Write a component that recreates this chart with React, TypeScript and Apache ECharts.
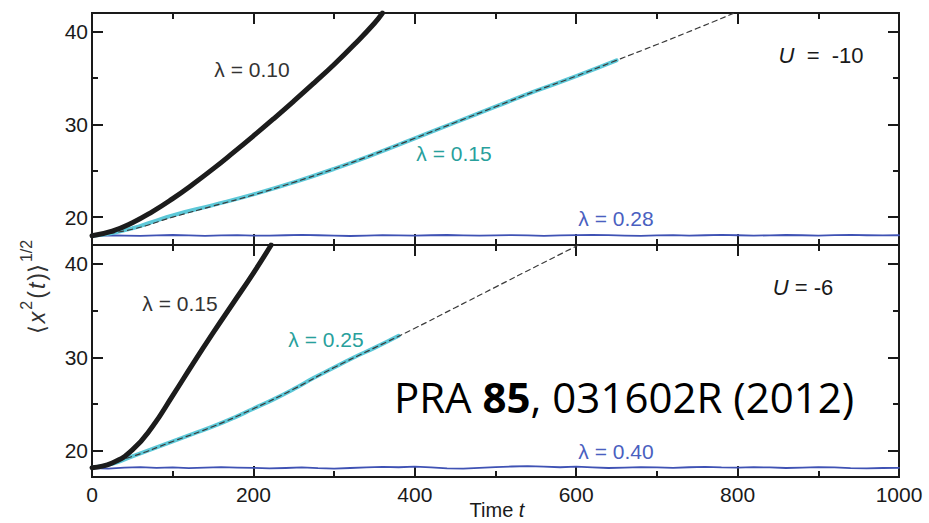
import React, { useEffect, useRef } from "react";
import * as echarts from "echarts";

// ---------- data ----------
const X_MIN = 0;
const X_MAX = 1000;
const X_INTERVAL = 200;
const Y_MAJOR = [20, 30, 40];
const Y_MINOR = [25, 35];
const TOP_Y_RANGE = [17, 42];
const BOT_Y_RANGE = [17.2, 42];

// Top panel, U = -10
const TOP_BLACK_T = [0, 25, 50, 75, 100, 125, 150, 175, 200, 225, 250, 275, 300, 325, 350, 360];
const TOP_BLACK_V = [18.0, 18.5, 19.4, 20.6, 22.0, 23.55, 25.2, 26.95, 28.75, 30.6, 32.5, 34.45, 36.45, 38.6, 40.9, 42.0];

const TOP_TEAL_T = [0, 25, 50, 75, 100, 150, 200, 250, 300, 350, 400, 450, 500, 550, 600, 650];
const TOP_TEAL_V = [18.0, 18.3, 18.8, 19.5, 20.2, 21.3, 22.45, 23.75, 25.2, 26.8, 28.5, 30.2, 31.9, 33.6, 35.2, 36.9];

const TOP_FIT_T = [0, 50, 100, 150, 200, 250, 300, 350, 400, 450, 500, 550, 600, 650, 700, 750, 796];
const TOP_FIT_V = [18.0, 18.7, 20.0, 21.2, 22.4, 23.75, 25.2, 26.8, 28.5, 30.2, 31.9, 33.6, 35.2, 36.9, 38.6, 40.35, 42.0];

const BLUE_STEP = 20;
const TOP_BLUE_V = [
  18.02, 18.05, 18.0, 17.98, 18.04, 18.08, 18.03, 17.99, 18.04, 18.07,
  18.02, 18.0, 18.05, 18.09, 18.05, 18.01, 17.97, 18.02, 18.06, 18.03,
  18.0, 18.05, 18.08, 18.04, 18.0, 18.03, 18.07, 18.04, 17.99, 18.03,
  18.06, 18.1, 18.06, 18.02, 17.98, 18.03, 18.06, 18.02, 18.05, 18.09,
  18.05, 18.01, 18.04, 18.08, 18.05, 18.02, 18.06, 18.09, 18.05, 18.03,
  18.05,
];

// Bottom panel, U = -6
const BOT_BLACK_T = [0, 25, 50, 75, 100, 125, 150, 175, 200, 222];
const BOT_BLACK_V = [18.2, 18.7, 20.1, 22.6, 25.9, 29.3, 32.6, 35.8, 39.0, 42.0];

const BOT_TEAL_T = [0, 25, 50, 75, 100, 125, 150, 175, 200, 225, 250, 275, 300, 325, 350, 380];
const BOT_TEAL_V = [18.2, 18.6, 19.4, 20.2, 21.0, 21.8, 22.6, 23.5, 24.5, 25.5, 26.6, 27.8, 28.9, 30.0, 31.0, 32.3];

const BOT_FIT_T = [0, 50, 100, 150, 200, 250, 300, 350, 400, 450, 500, 550, 603];
const BOT_FIT_V = [18.2, 19.4, 21.0, 22.6, 24.5, 26.6, 28.9, 31.0, 33.1, 35.3, 37.5, 39.7, 42.0];

const BOT_BLUE_V = [
  18.15, 18.1, 18.2, 18.25, 18.18, 18.22, 18.15, 18.2, 18.26, 18.2,
  18.17, 18.12, 18.16, 18.22, 18.14, 18.1, 18.16, 18.22, 18.28, 18.24,
  18.3, 18.22, 18.12, 18.1, 18.18, 18.26, 18.32, 18.36, 18.3, 18.24,
  18.3, 18.22, 18.16, 18.2, 18.26, 18.22, 18.18, 18.24, 18.28, 18.22,
  18.2, 18.26, 18.22, 18.16, 18.2, 18.26, 18.22, 18.15, 18.12, 18.16,
  18.18,
];

// ---------- styles ----------
const FONT = "'Liberation Sans', Arial, Helvetica, sans-serif";
const INK = "#1a1a1a";
const BLACK_LINE = "#1c1c1c";
const TEAL_LINE = "#5cc8d8";
const TEAL_TEXT = "#28a09c";
const BLUE_LINE = "#3f52b4";
const BLUE_TEXT = "#4a5fc0";
const FIT_LINE = "#3a3a3a";

const pairs = (t: number[], v: number[]) => t.map((x, i) => [x, v[i]]);
const bluePairs = (v: number[]) => v.map((y, i) => [i * BLUE_STEP, y]);

function xAxis(grid: number, position: string, showLabel: boolean) {
  return {
    type: "value",
    gridIndex: grid,
    position,
    min: X_MIN,
    max: X_MAX,
    interval: X_INTERVAL,
    axisLine: { show: false },
    splitLine: { show: false },
    axisTick: { show: true, inside: true, length: 11, lineStyle: { color: INK, width: 2 } },
    minorTick: { show: true, splitNumber: 2, length: 6, lineStyle: { color: INK, width: 2 } },
    minorSplitLine: { show: false },
    axisLabel: {
      show: showLabel,
      margin: 7,
      fontSize: 21,
      color: INK,
      fontFamily: FONT,
      formatter: (v: number) => String(v),
    },
  };
}

function yAxis(grid: number, position: string, range: number[], major: boolean, showLabel: boolean) {
  return {
    type: "value",
    gridIndex: grid,
    position,
    min: range[0],
    max: range[1],
    axisLine: { show: false },
    splitLine: { show: false },
    axisTick: {
      show: true,
      inside: true,
      length: major ? 11 : 6,
      customValues: major ? Y_MAJOR : Y_MINOR,
      lineStyle: { color: INK, width: 2 },
    },
    axisLabel: {
      show: showLabel,
      customValues: Y_MAJOR,
      margin: 4,
      fontSize: 21,
      color: INK,
      fontFamily: FONT,
    },
  };
}

function line(xi: number, yi: number, data: number[][], color: string, width: number, opts: any = {}) {
  return {
    type: "line",
    xAxisIndex: xi,
    yAxisIndex: yi,
    data,
    showSymbol: false,
    symbol: "none",
    clip: true,
    smooth: opts.smooth ?? false,
    z: opts.z ?? 2,
    lineStyle: { color, width, type: opts.dash ?? "solid", cap: "round", join: "round" },
  };
}

function label(x: number, y: number, text: string, fill: string, size = 21) {
  return {
    type: "text",
    x,
    y,
    z: 10,
    style: {
      text,
      fill,
      fontSize: size,
      fontFamily: FONT,
      align: "center",
      verticalAlign: "middle",
      textAlign: "center",
      textVerticalAlign: "middle",
    },
  };
}

function richLabel(x: number, y: number, text: string, rich: any, base: any, extra: any = {}) {
  return {
    type: "text",
    x,
    y,
    z: 10,
    ...extra,
    style: {
      text,
      rich,
      ...base,
      align: "center",
      verticalAlign: "middle",
      textAlign: "center",
      textVerticalAlign: "middle",
    },
  };
}

export default function App() {
  const ref = useRef<HTMLDivElement>(null);

  useEffect(() => {
    const chart = echarts.init(ref.current as HTMLDivElement, null, { renderer: "svg" });

    const gridBase = {
      left: 92,
      right: 30,
      height: 232,
      show: true,
      borderColor: INK,
      borderWidth: 2,
      backgroundColor: "transparent",
      containLabel: false,
      outerBoundsMode: "none",
    };

    const uRich = {
      i: { fontStyle: "italic", fontSize: 22, fontFamily: FONT, fill: INK, color: INK },
      n: { fontSize: 22, fontFamily: FONT, fill: INK, color: INK },
    };

    const tRich = {
      n: { fontSize: 20, fontFamily: FONT, color: INK, lineHeight: 20 },
      i: { fontSize: 20, fontFamily: FONT, color: INK, fontStyle: "italic", lineHeight: 20 },
    };

    const ySup = { fontSize: 16, fontFamily: FONT, color: "#333", verticalAlign: "top", lineHeight: 16, padding: [0, 1] };
    const yBase = { fontSize: 23, fontFamily: FONT, color: "#333", lineHeight: 38, padding: [0, 1] };

    const option: any = {
      animation: false,
      backgroundColor: "#ffffff",
      grid: [
        { ...gridBase, top: 13 },
        { ...gridBase, top: 245 },
      ],
      xAxis: [
        xAxis(0, "bottom", false),
        xAxis(0, "top", false),
        xAxis(1, "bottom", true),
        xAxis(1, "top", false),
      ],
      yAxis: [
        yAxis(0, "left", TOP_Y_RANGE, true, true),
        yAxis(0, "left", TOP_Y_RANGE, false, false),
        yAxis(0, "right", TOP_Y_RANGE, true, false),
        yAxis(0, "right", TOP_Y_RANGE, false, false),
        yAxis(1, "left", BOT_Y_RANGE, true, true),
        yAxis(1, "left", BOT_Y_RANGE, false, false),
        yAxis(1, "right", BOT_Y_RANGE, true, false),
        yAxis(1, "right", BOT_Y_RANGE, false, false),
      ],
      series: [
        line(0, 0, bluePairs(TOP_BLUE_V), BLUE_LINE, 1.8, { z: 2 }),
        line(0, 0, pairs(TOP_TEAL_T, TOP_TEAL_V), TEAL_LINE, 4, { smooth: 0.5, z: 3 }),
        line(0, 0, pairs(TOP_FIT_T, TOP_FIT_V), FIT_LINE, 1.2, { smooth: 0.5, z: 4, dash: [5, 4] }),
        line(0, 0, pairs(TOP_BLACK_T, TOP_BLACK_V), BLACK_LINE, 5, { smooth: 0.5, z: 5 }),
        line(2, 4, bluePairs(BOT_BLUE_V), BLUE_LINE, 1.8, { z: 2 }),
        line(2, 4, pairs(BOT_TEAL_T, BOT_TEAL_V), TEAL_LINE, 4, { smooth: 0.5, z: 3 }),
        line(2, 4, pairs(BOT_FIT_T, BOT_FIT_V), FIT_LINE, 1.2, { smooth: 0.5, z: 4, dash: [5, 4] }),
        line(2, 4, pairs(BOT_BLACK_T, BOT_BLACK_V), BLACK_LINE, 5, { smooth: 0.5, z: 5 }),
      ],
      graphic: [
        label(252, 69, "λ = 0.10", "#333"),
        label(454, 153, "λ = 0.15", TEAL_TEXT),
        label(616, 218, "λ = 0.28", BLUE_TEXT),
        richLabel(821, 55, "{i|U}{n|  =  -10}", uRich, { fontSize: 22, fontFamily: FONT, fill: INK }),
        label(180, 303, "λ = 0.15", "#333"),
        label(326, 339, "λ = 0.25", TEAL_TEXT),
        richLabel(803, 287, "{i|U}{n| = -6}", uRich, { fontSize: 22, fontFamily: FONT, fill: INK }),
        label(616, 451, "λ = 0.40", BLUE_TEXT),
        richLabel(497, 510, "{n|Time }{i|t}", tRich, { fontSize: 20, fontFamily: FONT, fill: INK }),
        richLabel(
          624,
          396,
          "{n|PRA }{b|85}{n|, 031602R (2012)}",
          {
            n: { fontSize: 42, fontFamily: "'Open Sans', sans-serif", color: "#000" },
            b: { fontSize: 42, fontFamily: "'Open Sans', sans-serif", fontWeight: "bold", color: "#000" },
          },
          { fontSize: 42, fontFamily: "'Open Sans', sans-serif", fill: "#000" }
        ),
        richLabel(
          37,
          287,
          "{n|⟨}{i|x}{s|2}{n|(}{i|t}{n|)⟩}{s|1/2}",
          {
            n: yBase,
            i: { ...yBase, fontStyle: "italic" },
            s: ySup,
          },
          { fontSize: 23, fontFamily: FONT, fill: "#333" },
          { rotation: Math.PI / 2 }
        ),
      ],
    };

    chart.setOption(option);
    return () => chart.dispose();
  }, []);

  return (
    <div
      ref={ref}
      style={{ position: "absolute", left: 0, top: 0, width: 929, height: 523, background: "#fff" }}
    />
  );
}
